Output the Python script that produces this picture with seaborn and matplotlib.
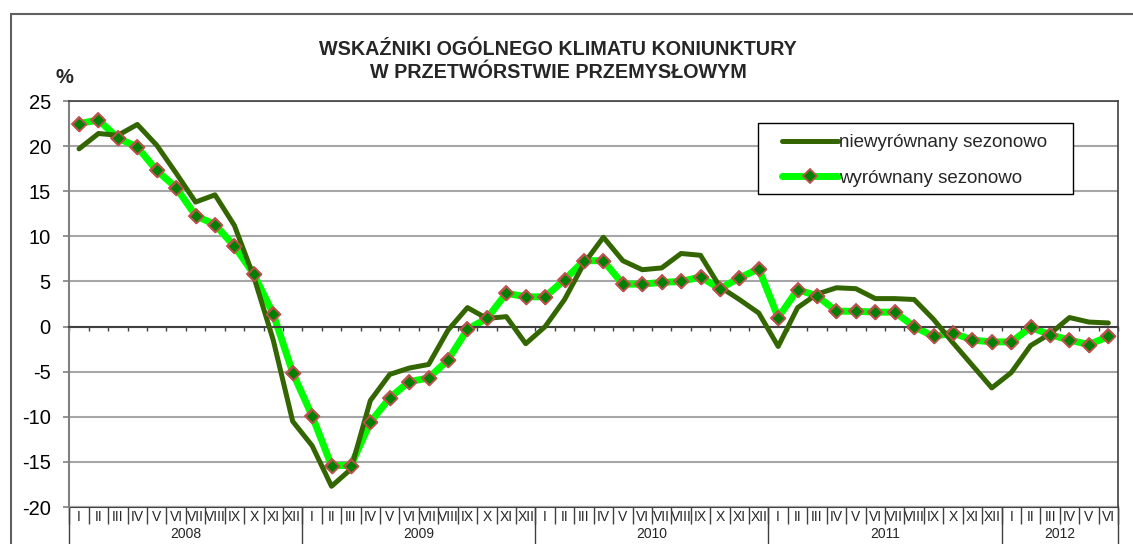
import numpy as np
import pandas as pd
import matplotlib.pyplot as plt
import seaborn as sns
from matplotlib.patches import Rectangle


months = ['I', 'II', 'III', 'IV', 'V', 'VI', 'VII', 'VIII', 'IX', 'X', 'XI', 'XII']
years = ['2008', '2009', '2010', '2011', '2012']
months_per_year = [12, 12, 12, 12, 6]

# niewyrównany sezonowo
nsa = [19.7, 21.4, 21.2, 22.4, 20.1, 17.0, 13.8, 14.6, 11.2, 5.5, -1.5, -10.5,
       -13.2, -17.7, -15.8, -8.2, -5.3, -4.6, -4.2, -0.4, 2.1, 0.9, 1.1, -1.9,
       0.0, 3.0, 7.0, 9.9, 7.3, 6.3, 6.5, 8.1, 7.9, 4.4, 3.0, 1.5,
       -2.2, 2.1, 3.6, 4.3, 4.2, 3.1, 3.1, 3.0, 0.8, -1.8, -4.3, -6.8,
       -5.1, -2.1, -0.8, 1.0, 0.5, 0.4]

# wyrównany sezonowo
sa = [22.5, 22.9, 20.9, 19.9, 17.3, 15.4, 12.3, 11.3, 8.9, 5.8, 1.4, -5.1,
      -9.9, -15.4, -15.4, -10.6, -7.9, -6.1, -5.7, -3.7, -0.3, 0.9, 3.7, 3.3,
      3.3, 5.2, 7.3, 7.3, 4.7, 4.7, 4.9, 5.0, 5.5, 4.2, 5.4, 6.4,
      1.0, 4.1, 3.4, 1.7, 1.7, 1.6, 1.6, 0.0, -1.1, -0.7, -1.5, -1.7,
      -1.7, -0.1, -0.9, -1.5, -2.0, -1.1]

title_lines = ['WSKAŹNIKI OGÓLNEGO KLIMATU KONIUNKTURY', 'W PRZETWÓRSTWIE PRZEMYSŁOWYM']
label_nsa = 'niewyrównany sezonowo'
label_sa = 'wyrównany sezonowo'

month_labels = [m for n in months_per_year for m in months[:n]]
df = pd.DataFrame({'idx': np.arange(len(month_labels)), 'month': month_labels,
                   'nsa': nsa, 'sa': sa})

sns.set_theme(style='white')
plt.rcParams['font.family'] = ['Liberation Sans', 'DejaVu Sans']
plt.rcParams['axes.unicode_minus'] = False

DARK = '#336600'
LIGHT = '#00ff00'
MFACE = '#008000'
MEDGE = '#c0504d'

fig = plt.figure(figsize=(11.33, 5.44), dpi=100)
ax = fig.add_axes([0.0612, 0.068, 0.9256, 0.7463])

sns.lineplot(data=df, x='idx', y='sa', ax=ax, color=LIGHT, lw=5, marker='D', ms=7,
             mfc=MFACE, mec=MEDGE, mew=1.3, label=label_sa, zorder=2,
             solid_joinstyle='round', solid_capstyle='round')
sns.lineplot(data=df, x='idx', y='nsa', ax=ax, color=DARK, lw=3.6, label=label_nsa,
             zorder=3, solid_joinstyle='round', solid_capstyle='round')
sns.scatterplot(data=df, x='idx', y='sa', ax=ax, marker='D', s=49, color=MFACE,
                edgecolor=MEDGE, linewidth=1.3, zorder=4, legend=False)

ax.set_xlim(-0.5, len(df) - 0.5)
ax.set_ylim(-20, 25)
ax.set_yticks(range(-20, 30, 5))
ax.set_xlabel('')
ax.set_ylabel('')
ax.yaxis.grid(True, color='#a6a6a6', lw=1.5)
ax.set_axisbelow(True)
ax.tick_params(axis='y', left=True, length=4.3, width=1.2, color='#808080', pad=9,
               labelsize=14.5, labelcolor='black')

for s in ['top', 'right']:
    ax.spines[s].set_color('#404040')
    ax.spines[s].set_linewidth(1.2)
ax.spines['left'].set_color('#808080')
ax.spines['left'].set_linewidth(1.5)
ax.spines['bottom'].set_position(('data', 0))
ax.spines['bottom'].set_color('#404040')
ax.spines['bottom'].set_linewidth(1.5)

bounds_m = np.arange(-0.5, len(df))
ax.set_xticks(bounds_m, labels=[''] * len(bounds_m))
ax.tick_params(axis='x', bottom=True, direction='out', length=3, width=1, color='#404040')

# month labels with separators
sec = ax.secondary_xaxis('bottom')
sec.set_xticks(df['idx'], labels=df['month'])
sec.set_xticks(bounds_m, minor=True)
sec.tick_params(which='major', length=0, pad=2.5, labelsize=10)
sec.tick_params(which='minor', length=12.5, width=1, color='#404040', direction='out')
sec.spines['bottom'].set_color('#404040')
sec.spines['bottom'].set_linewidth(1.5)

# year labels with separators
bounds_y = np.cumsum([0] + months_per_year) - 0.5
centers_y = (bounds_y[:-1] + bounds_y[1:]) / 2
yr = ax.secondary_xaxis('bottom')
yr.set_xticks(centers_y, labels=years)
yr.set_xticks(bounds_y, minor=True)
yr.tick_params(which='major', length=0, pad=14.5, labelsize=10)
yr.tick_params(which='minor', length=30, width=1, color='#404040', direction='out')
yr.spines['bottom'].set_visible(False)

# legend
handles, labels = ax.get_legend_handles_labels()
order = [labels.index(label_nsa), labels.index(label_sa)]
ax.add_patch(Rectangle((0.6567, 0.771), 0.3004, 0.1756, transform=ax.transAxes,
                       facecolor='white', edgecolor='black', lw=1, zorder=5))
leg = ax.legend([handles[i] for i in order], [labels[i] for i in order],
                loc='upper left', bbox_to_anchor=(0.6796, 0.918), frameon=False,
                fontsize=13.5, handlelength=3.0, handletextpad=0.05,
                labelspacing=0.97, borderpad=0, borderaxespad=0)
leg.set_zorder(6)

fig.text(0.4925, 1 - 55 / 544, title_lines[0], ha='center', va='baseline',
         fontsize=14.2, fontweight='bold')
fig.text(0.4925, 1 - 78.5 / 544, title_lines[1], ha='center', va='baseline',
         fontsize=14.2, fontweight='bold')
fig.text(64 / 1133, 1 - 83 / 544, '%', ha='center', va='baseline',
         fontsize=14.5, fontweight='bold')

fig.patches.append(Rectangle((11 / 1133, -0.05), 1.0, 1 - 14 / 544 + 0.05,
                             transform=fig.transFigure, fill=False,
                             edgecolor='#606060', lw=1.5))

fig.savefig('out.png', dpi=100)
